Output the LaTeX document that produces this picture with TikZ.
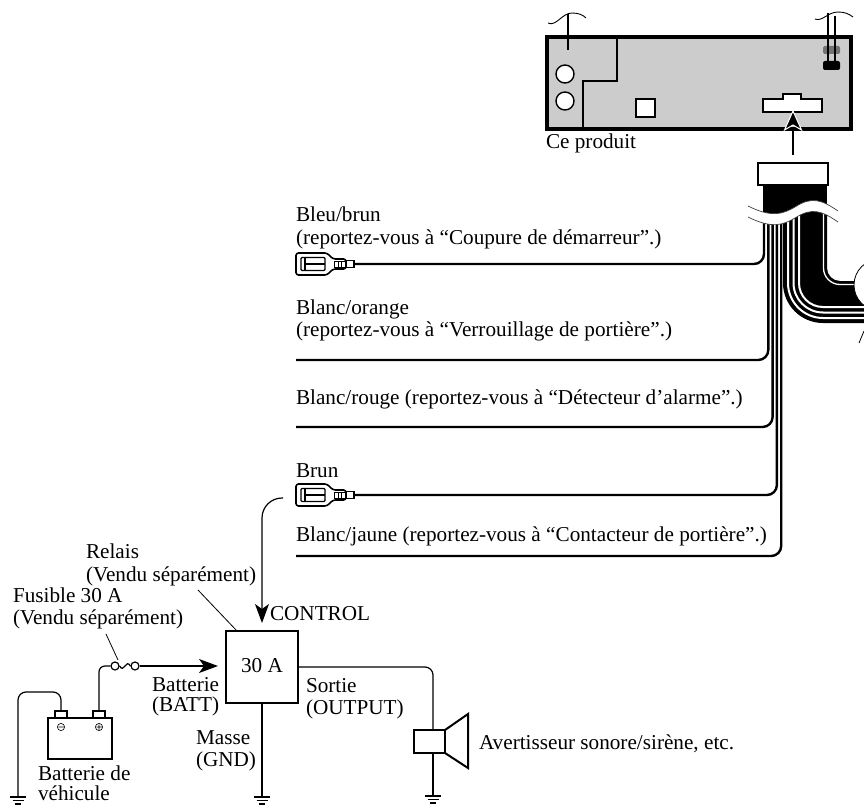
\documentclass[tikz,border=0pt]{standalone}
\usepackage{fontspec}
\setmainfont{Liberation Serif}
\usetikzlibrary{arrows.meta}
\tikzset{
  gnd/.pic={\draw[line width=1.1pt] (-8,0)--(8,0) (-5.5,3.5)--(5.5,3.5) (-3,7)--(3,7);},
  conn/.pic={
    \draw[line width=1.6pt, rounded corners=2.5pt, fill=white] (0,-11) -- (31,-11) -- (37,-5) -- (50,-5) -- (50,5) -- (37,5) -- (31,11) -- (0,11) -- cycle;
    \draw[line width=1.4pt, fill=white] (50,-3.5) rectangle (58,3.5);
    \draw[line width=1.1pt, rounded corners=1pt] (5,-6.5) rectangle (29,6.5);
    \draw[line width=1.1pt] (9,-6.5) -- (9,6.5) (9,0) -- (29,0);
    \draw[line width=1pt] (38,-3) rectangle (49,3) (42,-3)--(42,3) (45.5,-3)--(45.5,3);
  }
}
\begin{document}
\begin{tikzpicture}[x=1pt,y=-1pt,
  lbl/.style={inner sep=0pt, outer sep=0pt, anchor=base west, font=\fontsize{21.2}{23}\selectfont},
  wire/.style={line width=2.4pt, rounded corners=10pt},
  tl/.style={line width=1.2pt},
  leader/.style={line width=0.8pt},
  tip/.style={-{Stealth[length=19pt,width=14pt,inset=5pt]}}
]
\useasboundingbox (0,0) rectangle (864,805);

% ---------------- head unit ----------------
\node[draw, line width=3.2pt, fill=black!20, minimum width=304pt, minimum height=92pt, inner sep=0pt, outer sep=0pt] (unit) at (699,83) {};
\draw[line width=1.4pt] (617,37) -- (617,81) -- (583,81) -- (583,129);
\node[circle, draw, fill=white, line width=1.4pt, minimum size=18pt, inner sep=0pt] (jack1) at (565,74) {};
\node[circle, draw, fill=white, line width=1.4pt, minimum size=18pt, inner sep=0pt] (jack2) at (565,101) {};
\node[draw, fill=white, line width=1.4pt, minimum width=19pt, minimum height=18pt, inner sep=0pt] (sq) at (645.5,108) {};
\draw[fill=white, line width=1.4pt] (763,99) -- (783,99) -- (783,94) -- (801,94) -- (801,99) -- (822,99) -- (822,112) -- (763,112) -- cycle;
\coordinate (slot) at (793,111);
% antenna lead (left)
\draw[line width=2.4pt] (568,14) -- (568,50);
\draw[line width=0.9pt] (548,23) .. controls (556,27) and (562,13) .. (572,13) .. controls (579,13) and (583,15) .. (586,18);
% leads (right)
\fill[black!55, rounded corners=1.5pt] (823,46) rectangle (840,54);
\draw[line width=2.2pt] (828,13) -- (828,63);
\draw[line width=2pt] (835,16) -- (835,63);
\fill[rounded corners=2pt] (823,61) rectangle (840,70);
\draw[line width=0.9pt] (815,19) .. controls (822,22) and (828,12) .. (838,12) .. controls (845,12) and (849,14) .. (853,17);
\node[lbl] (ce) at (546,149) {Ce produit};

% ---------------- harness plug ----------------
\node[draw, fill=white, line width=1.2pt, minimum width=70pt, minimum height=22pt, inner sep=0pt, outer sep=0pt] (plug) at (793,174) {};
\draw[line width=1.2pt] (793,155) -- (793,128);
\filldraw[fill=black, draw=white, line width=1pt] (slot) -- (801.5,130) -- (793,125) -- (784.5,130) -- cycle;
\fill (763,185) rectangle (827,216);

% big bundle
\fill (783,212) -- (783,283) .. controls (783,305.1) and (800.9,323) .. (823,323) -- (866,323) -- (866,281) -- (840,281) .. controls (832.8,281) and (827,275.2) .. (827,268) -- (827,212) -- cycle;
\draw[white, line width=1.3pt] (823.5,212) -- (823.5,268) .. controls (823.5,277.1) and (830.9,284.5) .. (840,284.5) -- (866,284.5);
\draw[white, line width=2pt] (788,212) -- (788,283) .. controls (788,302.3) and (803.7,318) .. (823,318) -- (866,318);
\draw[white, line width=2pt] (793.5,212) -- (793.5,283) .. controls (793.5,299.3) and (806.7,312.5) .. (823,312.5) -- (866,312.5);
\draw[white, line width=2pt] (799,212) -- (799,283) .. controls (799,296.3) and (809.7,307) .. (823,307) -- (866,307);

% connectors
\pic at (296,264) {conn};
\pic at (296,495) {conn};
\coordinate (c1) at (354,264);
\coordinate (c4) at (354,495);
\coordinate (e2) at (296,360);
\coordinate (e3) at (296,427);
\coordinate (e5) at (296,556);

% wires
\draw[wire] (764,212) -- (764,264) -- (c1);
\draw[wire] (768.3,212) -- (768.3,360) -- (e2);
\draw[wire] (772.6,212) -- (772.6,427) -- (e3);
\draw[wire] (776.9,212) -- (776.9,495) -- (c4);
\draw[wire] (781.2,212) -- (781.2,556) -- (e5);

% wave break
\fill[white] (748,206) .. controls (772,218) and (783,214) .. (795,207) .. controls (812,196) and (822,200) .. (838,211)
  -- (838,222) .. controls (822,211) and (812,207) .. (795,218) .. controls (783,225) and (772,229) .. (748,217) -- cycle;
\draw[line width=0.7pt, black!75] (748,206) .. controls (772,218) and (783,214) .. (795,207) .. controls (812,196) and (822,200) .. (838,211);
\draw[line width=0.7pt, black!75] (748,217) .. controls (772,229) and (783,225) .. (795,218) .. controls (812,207) and (822,211) .. (838,222);

% cut-off element at right edge
\draw[fill=white, line width=0.8pt] (880,285) circle (26pt);
\draw[line width=0.8pt] (864,331) -- (859,343);

% wire labels
\node[lbl] (t1a) at (296,222) {Bleu/brun};
\node[lbl] (t1b) at (296,244) {(reportez-vous à “Coupure de démarreur”.)};
\node[lbl] (t2a) at (296,314) {Blanc/orange};
\node[lbl] (t2b) at (296,336) {(reportez-vous à “Verrouillage de portière”.)};
\node[lbl] (t3) at (296,404) {Blanc/rouge (reportez-vous à “Détecteur d’alarme”.)};
\node[lbl] (t4) at (296,477) {Brun};
\node[lbl] (t5) at (296,541) {Blanc/jaune (reportez-vous à “Contacteur de portière”.)};

% ---------------- relay circuit ----------------
\node[draw, tl, minimum width=72pt, minimum height=72pt, inner sep=0pt, outer sep=0pt] (relay) at (262,667) {};
\node[lbl, anchor=base] (ra) at (262,672) {30 A};
\draw[tl, rounded corners=20pt, tip] (283,498) -- (262,498) -- (relay.north |- 0,623);
\node[lbl] (ctl) at (270,620) {CONTROL};
\node[lbl] (rl1) at (86,558) {Relais};
\node[lbl] (rl2) at (86,581) {(Vendu séparément)};
\draw[leader] (198,590) -- (237,631);

% fuse
\node[lbl] (fu1) at (13,602) {Fusible 30 A};
\node[lbl] (fu2) at (13,624) {(Vendu séparément)};
\node[circle, draw, tl, fill=white, minimum size=8pt, inner sep=0pt] (fuseL) at (115,666) {};
\node[circle, draw, tl, fill=white, minimum size=8pt, inner sep=0pt] (fuseR) at (135,666) {};
\draw[tl] (fuseL.east) .. controls (124,674) and (126,658) .. (fuseR.west);
\draw[leader] (106,634) -- (118,660);
\draw[tl, tip] (fuseR.east) -- (218,666);
\node[lbl] (ba1) at (152,691) {Batterie};
\node[lbl] (ba2) at (152,711) {(BATT)};

% battery
\node[draw, tl, minimum width=64pt, minimum height=41pt, inner sep=0pt, outer sep=0pt] (batt) at (80,738.5) {};
\draw[tl, fill=white] (55,711) rectangle (67,718);
\draw[tl, fill=white] (93,711) rectangle (105,718);
\coordinate (neg) at (61,711);
\coordinate (pos) at (99,711);
\draw[line width=0.6pt] (61,727) circle (3.6pt) (58.5,727) -- (63.5,727);
\draw[line width=0.6pt] (99,727) circle (3.6pt) (96.5,727) -- (101.5,727) (99,724.5) -- (99,729.5);
\draw[tl, rounded corners=6pt] (fuseL.west) -- (99,666) -- (pos);
\draw[tl, rounded corners=8pt] (neg) -- (61,692) -- (18,692) -- (18,797);
\pic at (18,797) {gnd};
\node[lbl] (bv1) at (38,780) {Batterie de};
\node[lbl] (bv2) at (38,800) {véhicule};

% ground of relay
\draw[tl] (relay.south) -- (262,797);
\pic at (262,797) {gnd};
\node[lbl] (gn1) at (196,744) {Masse};
\node[lbl] (gn2) at (196,766) {(GND)};

% output and speaker
\node[draw, line width=2pt, minimum width=31pt, minimum height=23pt, inner sep=0pt, outer sep=0pt] (spk) at (429.5,741.5) {};
\draw[line width=2pt, line join=miter] (spk.north east) -- (468,714) -- (468,768) -- (spk.south east);
\draw[tl, rounded corners=8pt] (relay.east) -- (433,667) -- (433,730);
\draw[tl] (433,753) -- (433,796);
\pic at (433,796) {gnd};
\node[lbl] (so1) at (306,692) {Sortie};
\node[lbl] (so2) at (306,714) {(OUTPUT)};
\node[lbl] (av) at (479,749) {Avertisseur sonore/sirène, etc.};
\end{tikzpicture}
\end{document}
